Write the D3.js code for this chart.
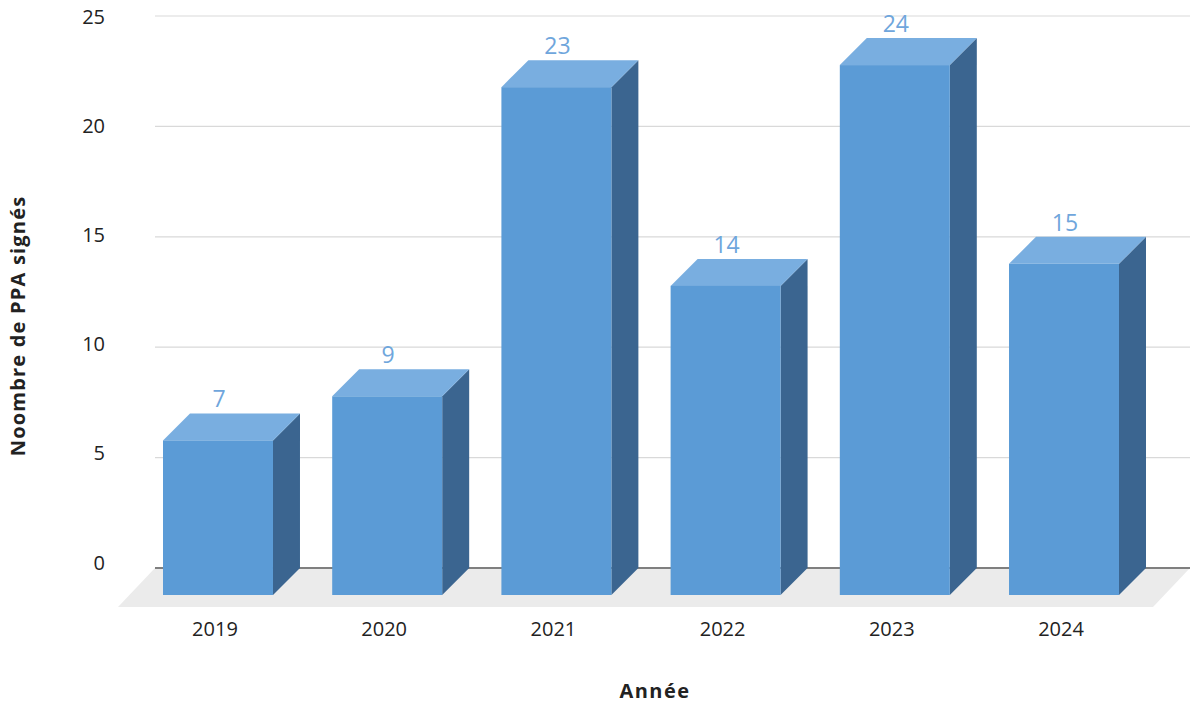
<!DOCTYPE html>
<html><head><meta charset="utf-8">
<script src="https://cdn.jsdelivr.net/npm/d3@7"></script>
<style>body{margin:0;background:#fff}svg{display:block;font-family:"Open Sans",sans-serif}</style>
</head><body><svg id="c" width="1200" height="706"></svg>
<script>
const categories = ["2019","2020","2021","2022","2023","2024"];
const values = [7, 9, 23, 14, 24, 15];
const yTicks = [0, 5, 10, 15, 20, 25];
const yTitle = "Noombre de PPA signés";
const xTitle = "Année";

const svg = d3.select("#c");
const D = 27; // depth offset
const x = d3.scaleBand().domain(categories).range([120.7, 1161.3]).paddingInner(0.35).paddingOuter(0.25);
const y = d3.scaleLinear().domain([0, 25]).range([595, 43]); // front plane
const yb = v => y(v) - D; // back plane
const yl = d3.scaleLinear().domain([0, 25]).range([562, 16.5]); // tick label positions

// floor
svg.append("path")
  .attr("d", `M155,${yb(0)} L1190,${yb(0)} L1153,607 L118,607 Z`)
  .attr("fill", "#ebebeb");

// gridlines
svg.selectAll("line.grid").data(yTicks.filter(t => t > 0)).join("line")
  .attr("x1", 155).attr("x2", 1190)
  .attr("y1", d => yb(d)).attr("y2", d => yb(d))
  .attr("stroke", "#d9d9d9").attr("stroke-width", 1.2);
svg.append("line").attr("x1", 155).attr("x2", 1190).attr("y1", yb(0)).attr("y2", yb(0))
  .attr("stroke", "#7f7f7f").attr("stroke-width", 2.2);

// y tick labels
svg.selectAll("text.yt").data(yTicks).join("text")
  .attr("x", 105).attr("y", d => yl(d)).attr("text-anchor", "end").attr("dominant-baseline", "central")
  .attr("font-size", 20).attr("fill", "#222").text(d => d);

// bars
const g = svg.selectAll("g.bar").data(categories.map((c, i) => ({c, v: values[i]}))).join("g");
g.append("path").attr("fill", "#3b6590")
  .attr("d", d => { const x1 = x(d.c) + x.bandwidth(); return `M${x1},${y(0)} L${x1+D},${y(0)-D} L${x1+D},${y(d.v)-D} L${x1},${y(d.v)} Z`; });
g.append("path").attr("fill", "#79aee0")
  .attr("d", d => { const x0 = x(d.c), x1 = x0 + x.bandwidth(), t = y(d.v); return `M${x0},${t} L${x0+D},${t-D} L${x1+D},${t-D} L${x1},${t} Z`; });
g.append("rect").attr("fill", "#5b9bd6")
  .attr("x", d => x(d.c)).attr("width", x.bandwidth())
  .attr("y", d => y(d.v)).attr("height", d => y(0) - y(d.v));
g.append("text").attr("x", d => x(d.c) + x.bandwidth()/2 + 1).attr("y", d => y(d.v) - D - 6)
  .attr("text-anchor", "middle").attr("font-size", 23).attr("fill", "#6fa6dc").text(d => d.v);

// x labels
svg.selectAll("text.xt").data(categories).join("text")
  .attr("x", d => x(d) + x.bandwidth()/2 - 3).attr("y", 636).attr("text-anchor", "middle")
  .attr("font-size", 20).attr("fill", "#222").text(d => d);

svg.append("text").attr("x", 655).attr("y", 698).attr("text-anchor", "middle")
  .attr("font-size", 20).attr("font-weight", "bold").attr("letter-spacing", 1.5).attr("fill", "#222").text(xTitle);
svg.append("text").attr("transform", "translate(25,326) rotate(-90)").attr("text-anchor", "middle")
  .attr("font-size", 20).attr("font-weight", "bold").attr("letter-spacing", 1.2).attr("fill", "#222").text(yTitle);
</script></body></html>
